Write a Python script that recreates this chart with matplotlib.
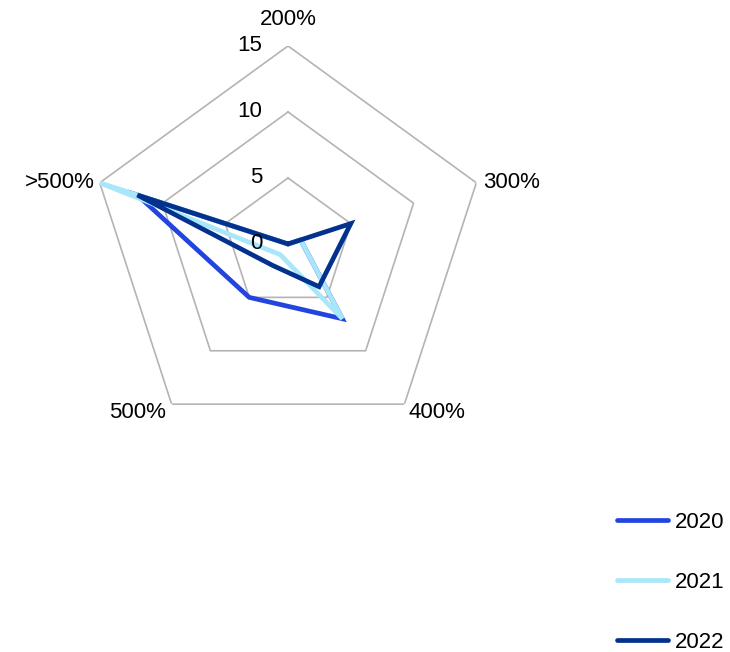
import numpy as np
import matplotlib
matplotlib.use("Agg")
import matplotlib.pyplot as plt

# --- data -------------------------------------------------------------------
categories = ["200%", "300%", "400%", "500%", ">500%"]
years = ["2020", "2021", "2022"]
v2020 = [0, 1, 7, 5, 12]
v2021 = [0, 1, 7, 1, 15]
v2022 = [0, 5, 4, 2, 12]
rings = [0, 5, 10, 15]

colors = {"2020": "#2245e0", "2021": "#a8e6fa", "2022": "#02318e"}

plt.rcParams["font.family"] = ["Liberation Sans", "DejaVu Sans"]

fig = plt.figure(figsize=(7.3, 6.52), dpi=100)
ax = fig.add_axes([0.1233, 0.3221, 0.5425, 0.6074], projection="polar")
ax.set_theta_offset(np.pi / 2)
ax.set_theta_direction(-1)
ax.set_ylim(0, 15)
ax.grid(False)
ax.set_xticks([]); ax.set_yticks([])
ax.spines["polar"].set_visible(False)
ax.patch.set_visible(False)

n = len(categories)
theta = np.linspace(0, 2 * np.pi, n, endpoint=False)
tc = np.append(theta, theta[0])

# pentagon grid
for r in rings[1:]:
    ax.plot(tc, [r] * (n + 1), color="#b4b4b4", lw=1.2, zorder=1)
for r in rings:
    ax.annotate(str(r), (0, r), xytext=(-26, 0), textcoords="offset pixels",
                ha="right", va="center", fontsize=16, zorder=5)

# category labels: (dx, dy) pixel offsets and alignment per vertex
lab_pos = [((0, 26), "center"), ((7, 0), "left"), ((4, -8), "left"),
           ((-6, -8), "right"), ((-5, 0), "right")]
for t, lab, (off, ha) in zip(theta, categories, lab_pos):
    ax.annotate(lab, (t, 15), xytext=off, textcoords="offset pixels",
                ha=ha, va="center", fontsize=16, zorder=5)

for yr, vals in zip(years, (v2020, v2021, v2022)):
    ax.plot(tc, vals + vals[:1], color=colors[yr], lw=3.4, label=yr,
            solid_joinstyle="miter", solid_capstyle="round", zorder=3)

fig.legend(loc="lower right", bbox_to_anchor=(1.004, -0.015), frameon=False,
           fontsize=16, handlelength=2.3, handletextpad=0.3, labelspacing=1.75,
           borderaxespad=0)
fig.savefig("out.png", dpi=100)
